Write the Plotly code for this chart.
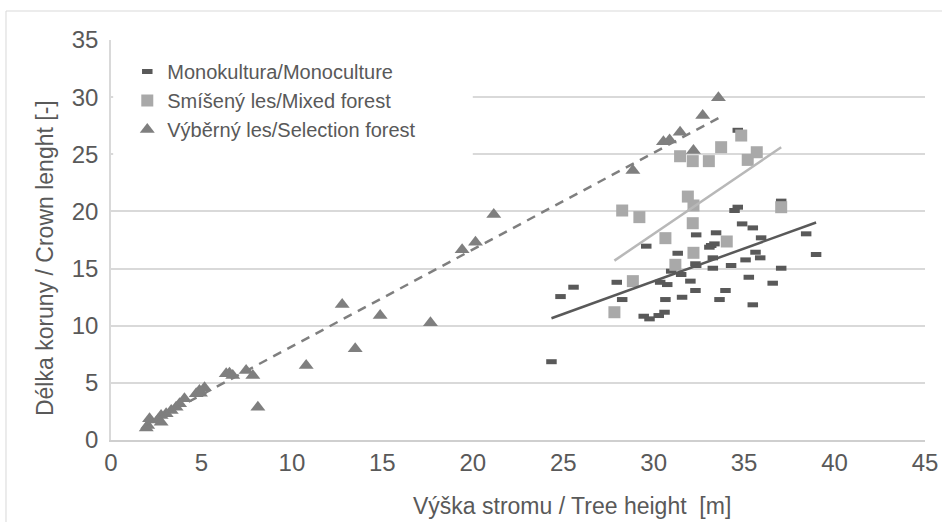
import plotly.graph_objects as go

# Monokultura / Monoculture
mono_x = [24.35, 24.85, 25.57, 27.96, 28.26, 29.59, 29.45, 29.77, 30.28, 30.60, 30.36, 30.75,
          30.65, 31.33, 31.57, 31.52, 30.97, 32.03, 32.31, 32.35, 32.31, 34.65, 34.47, 34.89,
          35.48, 33.45, 35.94, 33.18, 33.36, 33.08, 35.63, 35.89, 35.08, 33.27, 32.35, 33.27,
          34.28, 37.05, 38.43, 38.98, 35.26, 36.58, 33.97, 33.64, 35.48, 34.65, 37.05]
mono_y = [6.85, 12.55, 13.37, 13.80, 12.29, 16.96, 10.83, 10.60, 10.89, 11.18, 13.80, 13.60,
          12.29, 16.34, 12.49, 14.48, 14.77, 13.90, 13.08, 17.95, 15.42, 20.37, 20.08, 18.91,
          18.56, 18.13, 17.69, 17.02, 17.16, 16.87, 16.43, 15.94, 15.76, 15.94, 15.27, 15.03,
          15.27, 15.03, 18.04, 16.23, 14.24, 13.72, 13.08, 12.29, 11.83, 27.10, 20.90]

# Smíšený les / Mixed forest
mixed_x = [27.83, 28.26, 28.85, 29.21, 30.65, 31.20, 31.46, 31.89, 32.16, 32.20, 32.16, 32.20,
           33.05, 33.73, 34.04, 34.84, 35.20, 35.70, 37.05]
mixed_y = [11.18, 20.08, 13.90, 19.50, 17.66, 15.33, 24.83, 21.30, 24.40, 20.52, 18.97, 16.38,
           24.40, 25.62, 17.37, 26.64, 24.51, 25.18, 20.37]

# Výběrný les / Selection forest
sel_x = [1.95, 2.03, 2.13, 2.60, 2.77, 2.77, 3.05, 3.33, 3.60, 3.79, 4.06, 4.71, 4.89, 4.95,
         5.17, 6.37, 6.55, 6.73, 7.47, 7.84, 8.12, 10.79, 12.78, 13.50, 14.88, 17.66, 19.41,
         20.15, 21.16, 28.85, 30.54, 30.88, 31.46, 32.20, 32.71, 33.58]
sel_y = [1.05, 1.27, 1.85, 1.75, 1.56, 2.14, 2.29, 2.58, 2.87, 3.17, 3.60, 4.04, 4.33, 4.10,
         4.57, 5.79, 5.85, 5.64, 6.08, 5.64, 2.87, 6.52, 11.85, 7.98, 10.89, 10.25, 16.64,
         17.30, 19.73, 23.58, 26.10, 26.26, 26.93, 25.33, 28.39, 29.94]

# Linear trend coefficients (slope, intercept)
mono_trend = (0.573, -3.30)
mixed_trend = (1.075, -14.22)
sel_trend = (0.8475, -0.29)

x_ticks = [0, 5, 10, 15, 20, 25, 30, 35, 40, 45]
y_ticks = [0, 5, 10, 15, 20, 25, 30, 35]

x_title = "Výška stromu / Tree height  [m]"
y_title = "Délka koruny / Crown lenght [-]"

FONT = "Liberation Sans, Arial, sans-serif"
TEXT = "#595959"
GRID = "#D9D9D9"


def trend_xy(xs, coef):
    lo, hi = min(xs), max(xs)
    return [lo, hi], [coef[0] * lo + coef[1], coef[0] * hi + coef[1]]


fig = go.Figure()

fig.add_trace(go.Scatter(
    x=mono_x, y=mono_y, mode="markers", name="Monokultura/Monoculture",
    marker=dict(symbol="line-ew", size=7.5, color="#595959",
                line=dict(color="#595959", width=5)),
))
fig.add_trace(go.Scatter(
    x=mixed_x, y=mixed_y, mode="markers", name="Smíšený les/Mixed forest",
    marker=dict(symbol="square", size=12, color="#A9A9A9", line=dict(width=0)),
))
fig.add_trace(go.Scatter(
    x=sel_x, y=sel_y, mode="markers", name="Výběrný les/Selection forest",
    marker=dict(symbol="triangle-up", size=13, color="#7F7F7F", line=dict(width=0)),
))

for xs, coef, color, dash in [
    (mono_x, mono_trend, "#595959", "solid"),
    (mixed_x, mixed_trend, "#B8B8B8", "solid"),
    (sel_x, sel_trend, "#7F7F7F", "9px,7px"),
]:
    tx, ty = trend_xy(xs, coef)
    fig.add_trace(go.Scatter(
        x=tx, y=ty, mode="lines", showlegend=False, hoverinfo="skip",
        line=dict(color=color, width=2.5, dash=dash),
    ))

# outer chart frame
fig.add_shape(type="rect", xref="paper", yref="paper",
              x0=-0.129, x1=1.06, y0=-0.23, y1=1.0725,
              line=dict(color=GRID, width=1), fillcolor="rgba(0,0,0,0)", layer="below")
# legend background
fig.add_shape(type="rect", xref="x", yref="y", x0=0.12, x1=20.0, y0=24.4, y1=34.2,
              line=dict(width=0), fillcolor="white", layer="above")

# axis titles
fig.add_annotation(text=x_title, xref="paper", yref="paper", x=0.566, y=-0.165,
                   xanchor="center", yanchor="middle", showarrow=False,
                   font=dict(size=23, color=TEXT))
fig.add_annotation(text=y_title, xref="paper", yref="paper", x=-0.081, y=0.455,
                   xanchor="center", yanchor="middle", showarrow=False, textangle=-90,
                   font=dict(size=23, color=TEXT))

fig.update_layout(
    width=942, height=522,
    margin=dict(l=111, r=17, t=40, b=82),
    paper_bgcolor="white", plot_bgcolor="white",
    font=dict(family=FONT, color=TEXT, size=20),
    showlegend=True,
    legend=dict(x=0.02, y=0.97, xanchor="left", yanchor="top",
                bgcolor="rgba(0,0,0,0)", font=dict(size=20, color=TEXT),
                tracegroupgap=0, itemwidth=30),
    xaxis=dict(range=[0, 45], tickvals=x_ticks, showgrid=False, zeroline=False,
               showline=True, linecolor="#CFCFCF", linewidth=1.5, ticks="",
               automargin=False, tickfont=dict(size=24, color=TEXT)),
    yaxis=dict(range=[0, 35], tickvals=y_ticks, showgrid=True, gridcolor=GRID, gridwidth=1.5,
               zeroline=False, showline=True, linecolor=GRID, linewidth=1.5, ticks="",
               automargin=False, ticklabelstandoff=6, tickfont=dict(size=24, color=TEXT)),
)

fig.write_html("out.html")
